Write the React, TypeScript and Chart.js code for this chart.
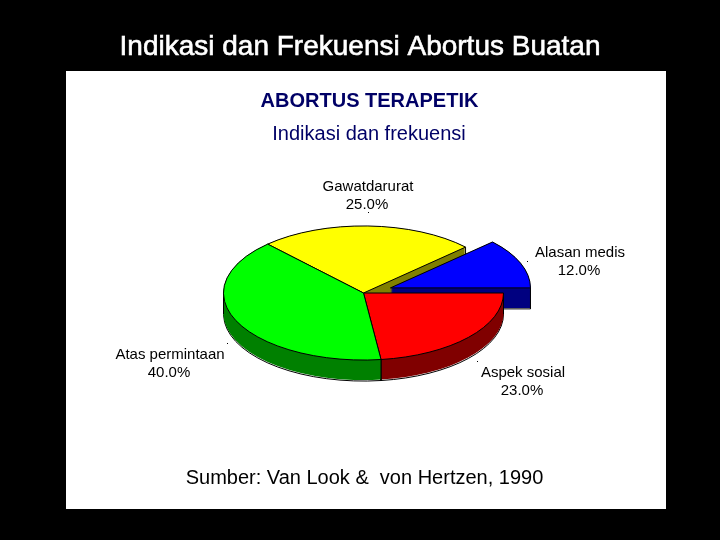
import React, { useEffect, useRef } from "react";
import { Chart, registerables } from "chart.js";

Chart.register(...registerables);

const categories = ["Aspek sosial", "Atas permintaan", "Gawatdarurat", "Alasan medis"];
const values = [23.0, 40.0, 25.0, 12.0];
const topColors = ["#ff0000", "#00ff00", "#ffff00", "#0000ff"];
const wallColors = ["#800000", "#008000", "#808000", "#000080"];
const pageTitle = "Indikasi dan Frekuensi Abortus Buatan";
const heading = "ABORTUS TERAPETIK";
const subheading = "Indikasi dan frekuensi";
const source = "Sumber: Van Look &  von Hertzen, 1990";

const SQUASH = 0.479;
const DEPTH = 21;
const EXPLODE = [0, 0, 0, 29];
const PAINT_GROUPS = [[2], [3], [0, 1]];
const LABEL_POS: [number, number][] = [
  [523, 373],
  [170, 355],
  [368, 187],
  [580, 253],
];
const DOTS: [number, number][] = [
  [477, 361],
  [227, 343],
  [368, 212],
  [527, 261],
];

const pie3d = {
  id: "pie3d",
  beforeDraw(chart: any) {
    const { ctx, width, height } = chart;
    ctx.save();
    ctx.fillStyle = "#000000";
    ctx.fillRect(0, 0, width, height);
    ctx.fillStyle = "#ffffff";
    ctx.fillRect(66, 71, 600, 438);
    ctx.restore();
  },
  beforeDatasetsDraw(chart: any) {
    const { ctx } = chart;
    const arcs = chart.getDatasetMeta(0).data;
    const place = (arc: any, i: number, dy: number) => {
      const mid = (arc.startAngle + arc.endAngle) / 2;
      ctx.translate(arc.x, arc.y + dy);
      ctx.scale(1, SQUASH);
      ctx.translate(-arc.x, -arc.y);
      ctx.translate(Math.cos(mid) * EXPLODE[i], Math.sin(mid) * EXPLODE[i]);
    };
    const sector = (arc: any, i: number, dy: number) => {
      ctx.save();
      place(arc, i, dy);
      ctx.beginPath();
      ctx.moveTo(arc.x, arc.y);
      ctx.arc(arc.x, arc.y, arc.outerRadius, arc.startAngle, arc.endAngle);
      ctx.closePath();
      ctx.restore();
    };
    ctx.save();
    ctx.lineWidth = 1;
    ctx.strokeStyle = "#000000";
    PAINT_GROUPS.forEach((group) => {
      group.forEach((i) => {
        const arc = arcs[i];
        sector(arc, i, DEPTH);
        ctx.stroke();
        ctx.fillStyle = wallColors[i];
        for (let d = DEPTH - 1; d >= 0; d--) {
          sector(arc, i, d);
          ctx.fill();
        }
        const edges = [arc.startAngle, arc.endAngle];
        [0, Math.PI, 2 * Math.PI, 3 * Math.PI].forEach((a) => {
          if (a > arc.startAngle && a < arc.endAngle) edges.push(a);
        });
        const mid = (arc.startAngle + arc.endAngle) / 2;
        edges.forEach((a) => {
          const px = arc.x + Math.cos(mid) * EXPLODE[i] + Math.cos(a) * arc.outerRadius;
          const py = arc.y + (Math.sin(mid) * EXPLODE[i] + Math.sin(a) * arc.outerRadius) * SQUASH;
          ctx.beginPath();
          ctx.moveTo(px, py);
          ctx.lineTo(px, py + DEPTH);
          ctx.stroke();
        });
      });
      group.forEach((i) => {
        const arc = arcs[i];
        ctx.save();
        place(arc, i, 0);
        arc.draw(ctx);
        ctx.restore();
        sector(arc, i, 0);
        ctx.stroke();
      });
    });
    ctx.restore();
    return false;
  },
  afterDraw(chart: any) {
    const { ctx } = chart;
    ctx.save();
    ctx.textAlign = "center";
    ctx.textBaseline = "middle";
    const sans = '"Liberation Sans", Arial, sans-serif';
    ctx.fillStyle = "#ffffff";
    ctx.font = `28px ${sans}`;
    ctx.fillText(pageTitle, 360, 47);
    ctx.strokeStyle = "#ffffff";
    ctx.lineWidth = 0.6;
    ctx.strokeText(pageTitle, 360, 47);
    ctx.fillStyle = "#000066";
    ctx.font = `bold 20px ${sans}`;
    ctx.fillText(heading, 369.5, 101.5);
    ctx.font = `20px ${sans}`;
    ctx.fillText(subheading, 369, 134);
    ctx.fillStyle = "#000000";
    ctx.font = `20px ${sans}`;
    ctx.fillText(source, 364.5, 478);
    ctx.font = `15px ${sans}`;
    categories.forEach((c, i) => {
      const [x, y] = LABEL_POS[i];
      ctx.fillText(c, x, y);
      ctx.fillText(`${values[i].toFixed(1)}%`, x - 1, y + 17.5);
      ctx.fillRect(DOTS[i][0], DOTS[i][1], 1, 1);
    });
    ctx.restore();
  },
};

export default function App() {
  const ref = useRef<HTMLCanvasElement>(null);
  useEffect(() => {
    document.body.style.margin = "0";
    document.body.style.background = "#000";
    const chart = new Chart(ref.current!, {
      type: "pie",
      data: {
        labels: categories,
        datasets: [
          {
            data: values,
            backgroundColor: topColors,
            borderWidth: 0,
            radius: 140,
          } as any,
        ],
      },
      options: {
        responsive: false,
        animation: false,
        rotation: 90,
        layout: { padding: { left: 7, top: 46, right: 0, bottom: 0 } },
        plugins: { legend: { display: false }, tooltip: { enabled: false } },
      },
      plugins: [pie3d],
    });
    return () => chart.destroy();
  }, []);
  return <canvas ref={ref} width={720} height={540} style={{ display: "block" }} />;
}
